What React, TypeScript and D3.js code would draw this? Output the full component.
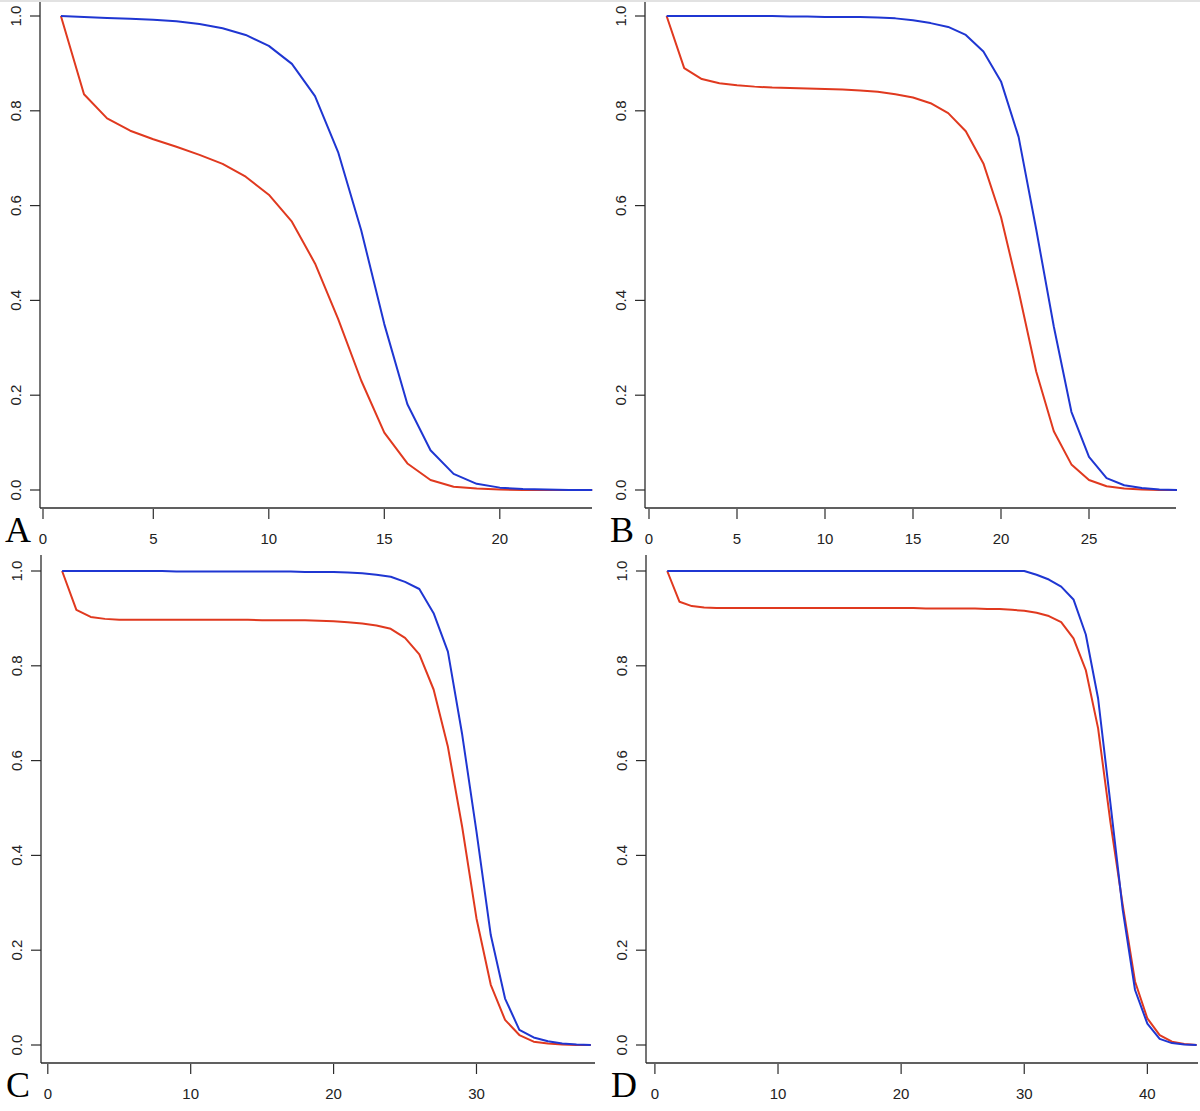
import React from 'react';
import * as d3 from 'd3';

// ---------- data ----------
const Y_TICKS = [0, 0.2, 0.4, 0.6, 0.8, 1.0];

const A_X_TICKS = [0, 5, 10, 15, 20];
const A_BLUE = [1.0, 0.998, 0.996, 0.994, 0.992, 0.989, 0.983, 0.974, 0.96, 0.937, 0.899, 0.831, 0.713, 0.548, 0.35, 0.181, 0.084, 0.034, 0.013, 0.005, 0.002, 0.001, 0.0, 0.0];
const A_RED = [1.0, 0.835, 0.784, 0.758, 0.74, 0.724, 0.707, 0.688, 0.661, 0.623, 0.566, 0.478, 0.361, 0.231, 0.121, 0.056, 0.021, 0.007, 0.003, 0.001, 0.0, 0.0, 0.0, 0.0];

const B_X_TICKS = [0, 5, 10, 15, 20, 25];
const B_BLUE = [1.0, 1.0, 1.0, 1.0, 1.0, 1.0, 1.0, 0.999, 0.999, 0.998, 0.998, 0.998, 0.997, 0.995, 0.991, 0.985, 0.977, 0.96, 0.925, 0.862, 0.745, 0.55, 0.345, 0.165, 0.07, 0.025, 0.01, 0.004, 0.001, 0.0];
const B_RED = [1.0, 0.89, 0.867, 0.858, 0.854, 0.851, 0.849, 0.848, 0.847, 0.846, 0.845, 0.843, 0.84, 0.835, 0.828, 0.816, 0.795, 0.757, 0.689, 0.576, 0.42, 0.25, 0.124, 0.054, 0.021, 0.008, 0.003, 0.001, 0.0, 0.0];

const C_X_TICKS = [0, 10, 20, 30];
const C_BLUE = [1.0, 1.0, 1.0, 1.0, 1.0, 1.0, 1.0, 1.0, 0.999, 0.999, 0.999, 0.999, 0.999, 0.999, 0.999, 0.999, 0.999, 0.998, 0.998, 0.998, 0.997, 0.995, 0.992, 0.988, 0.977, 0.962, 0.911, 0.83, 0.655, 0.45, 0.232, 0.098, 0.032, 0.016, 0.008, 0.003, 0.001, 0.0];
const C_RED = [1.0, 0.918, 0.903, 0.899, 0.897, 0.897, 0.897, 0.897, 0.897, 0.897, 0.897, 0.897, 0.897, 0.897, 0.896, 0.896, 0.896, 0.896, 0.895, 0.894, 0.892, 0.889, 0.885, 0.878, 0.859, 0.824, 0.75, 0.629, 0.46, 0.267, 0.127, 0.053, 0.021, 0.007, 0.003, 0.001, 0.0, 0.0];

const D_X_TICKS = [0, 10, 20, 30, 40];
const D_BLUE = [1.0, 1.0, 1.0, 1.0, 1.0, 1.0, 1.0, 1.0, 1.0, 1.0, 1.0, 1.0, 1.0, 1.0, 1.0, 1.0, 1.0, 1.0, 1.0, 1.0, 1.0, 1.0, 1.0, 1.0, 1.0, 1.0, 1.0, 1.0, 1.0, 1.0, 0.992, 0.982, 0.967, 0.94, 0.866, 0.731, 0.51, 0.285, 0.116, 0.045, 0.013, 0.004, 0.001, 0.0];
const D_RED = [1.0, 0.935, 0.926, 0.923, 0.922, 0.922, 0.922, 0.922, 0.922, 0.922, 0.922, 0.922, 0.922, 0.922, 0.922, 0.922, 0.922, 0.922, 0.922, 0.922, 0.922, 0.921, 0.921, 0.921, 0.921, 0.921, 0.92, 0.92, 0.918, 0.916, 0.912, 0.905, 0.892, 0.858, 0.791, 0.668, 0.47, 0.295, 0.134, 0.056, 0.021, 0.007, 0.002, 0.0];

// ---------- layout ----------
const W = 1200;
const H = 1111;
const BLUE = '#1f36d2';
const RED = '#e0391f';
const AXIS = '#2b2b2b';
const TEXT = '#222';

type Panel = {
  letter: string;
  blue: number[];
  red: number[];
  xTicks: number[];
  xMax: number;
  left: number;
  right: number;
  top: number;
  axisY: number;
  xr: [number, number];
  yr: [number, number];
};

const panels: Panel[] = [
  { letter: 'A', blue: A_BLUE, red: A_RED, xTicks: A_X_TICKS, xMax: 24, left: 40, right: 592, top: 2, axisY: 508, xr: [37.8, 592.2], yr: [490, 16] },
  { letter: 'B', blue: B_BLUE, red: B_RED, xTicks: B_X_TICKS, xMax: 30, left: 645, right: 1176, top: 2, axisY: 508, xr: [649, 1177], yr: [490, 16] },
  { letter: 'C', blue: C_BLUE, red: C_RED, xTicks: C_X_TICKS, xMax: 38, left: 41, right: 595, top: 555, axisY: 1063, xr: [47.8, 590.8], yr: [1045, 571] },
  { letter: 'D', blue: D_BLUE, red: D_RED, xTicks: D_X_TICKS, xMax: 44, left: 646, right: 1198, top: 555, axisY: 1063, xr: [654.9, 1196.6], yr: [1045, 571] },
];

const SANS = '"Liberation Sans", Arial, Helvetica, sans-serif';
const SERIF = '"Liberation Serif", "Times New Roman", serif';

function PanelView({ p }: { p: Panel }) {
  const x = d3.scaleLinear().domain([0, p.xMax]).range(p.xr);
  const y = d3.scaleLinear().domain([0, 1]).range(p.yr);
  const line = d3
    .line<number>()
    .x((_, i) => x(i + 1))
    .y((d) => y(d));
  return (
    <g>
      {/* L-shaped frame */}
      <line x1={p.left} x2={p.left} y1={p.top} y2={p.axisY} stroke={AXIS} strokeWidth={1.3} />
      <line x1={p.left} x2={p.right} y1={p.axisY} y2={p.axisY} stroke={AXIS} strokeWidth={1.3} />
      {/* y ticks */}
      {Y_TICKS.map((t) => (
        <g key={'y' + t}>
          <line x1={p.left - 10} x2={p.left} y1={y(t)} y2={y(t)} stroke={AXIS} strokeWidth={1.2} />
          <text
            transform={`translate(${p.left - 25},${y(t)}) rotate(-90)`}
            textAnchor="middle"
            dominantBaseline="central"
            fontFamily={SANS}
            fontSize={15}
            fill={TEXT}
          >
            {t.toFixed(1)}
          </text>
        </g>
      ))}
      {/* x ticks */}
      {p.xTicks.map((t) => {
        const px = Math.max(x(t), p.left + 3);
        return (
          <g key={'x' + t}>
            <line x1={px} x2={px} y1={p.axisY + 1} y2={p.axisY + 11} stroke={AXIS} strokeWidth={1.2} />
            <text x={px} y={p.axisY + 30} textAnchor="middle" dominantBaseline="central" fontFamily={SANS} fontSize={15} fill={TEXT}>
              {t}
            </text>
          </g>
        );
      })}
      {/* series */}
      <path d={line(p.red) || ''} fill="none" stroke={RED} strokeWidth={2} strokeLinejoin="round" />
      <path d={line(p.blue) || ''} fill="none" stroke={BLUE} strokeWidth={2} strokeLinejoin="round" />
      {/* panel letter */}
      <text x={p.left - 35} y={p.axisY + 34} fontFamily={SERIF} fontSize={36} fill="#000">
        {p.letter}
      </text>
    </g>
  );
}

export default function App() {
  return (
    <svg
      width={W}
      height={H}
      viewBox={`0 0 ${W} ${H}`}
      style={{ position: 'absolute', left: 0, top: 0, background: '#fff' }}
    >
      <rect x={0} y={0} width={W} height={H} fill="#fff" />
      <rect x={0} y={0} width={W} height={2} fill="#e2e2e2" />
      {panels.map((p) => (
        <PanelView key={p.letter} p={p} />
      ))}
    </svg>
  );
}
